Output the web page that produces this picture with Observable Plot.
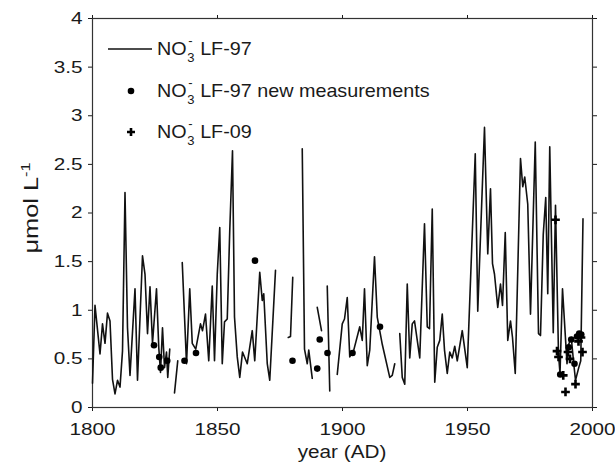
<!DOCTYPE html>
<html><head><meta charset="utf-8">
<script src="https://cdn.jsdelivr.net/npm/d3@7"></script>
<script src="https://cdn.jsdelivr.net/npm/@observablehq/plot@0.6"></script>
<style>body{margin:0;background:#fff}#chart svg{display:block}</style>
</head><body><div id="chart"></div>
<script>
// NO3- LF-97 (line); null marks a gap in the record
const lf97Year = [1800,1801,1803,1804,1805,1806,1807,1808,1809,1810,1811,1812,1813,1814,1815,1817,1818,1820,1821,1822,1823,1824,1825.6,1826.5,1827.2,1828,1828.8,1829.6,1830.1,1830.9,1831.8,1832.8,1834.1,1835,1835.9,1837.6,1838.9,1839.9,1841.3,1843.2,1844,1845.2,1846.5,1847.9,1848.8,1849.9,1850.9,1851.9,1852.8,1853.9,1854.9,1856,1856.8,1857.9,1858.9,1860,1861.9,1863.9,1864.9,1866.9,1867.9,1868.5,1869.9,1870.9,1873.2,1875,1878.3,1879.2,1880.1,1882,1883.9,1884.8,1885.9,1886.5,1887.9,1889,1889.9,1891.6,1892.5,1893.9,1894.9,1896,1897.9,1899.9,1900.8,1901.9,1902.9,1904.5,1906.9,1907.9,1908.8,1909.9,1910.9,1912.8,1913.9,1915.9,1918.9,1919.9,1920.9,1922,1922.9,1923.9,1924.9,1925.9,1926.9,1927.9,1928.8,1930.9,1932.8,1933.9,1934.8,1935.9,1936.9,1937.9,1938.9,1939.9,1940.8,1941.9,1942.9,1943.9,1944.9,1945.9,1947.9,1949.9,1953.1,1954.1,1956.8,1958.1,1959.2,1960,1960.8,1962.1,1963.2,1964,1965.1,1966.1,1967.2,1968,1969.1,1971.2,1972.1,1972.9,1974.1,1975.2,1977.1,1978.4,1979.2,1980.3,1981.3,1982.1,1982.9,1984.3,1985.2,1986.4,1987,1988,1989.8,1990.5,1991.5,1992.5,1993.2,1994.5,1995.3,1996.2];
const lf97Value = [0.25,1.05,0.55,0.86,0.66,0.97,0.89,0.29,0.14,0.28,0.21,0.58,2.21,0.82,0.33,1.22,0.28,1.56,1.37,0.76,1.24,0.66,1.22,0.62,0.36,0.82,0.41,0.57,0.31,0.60,null,0.15,0.48,null,1.49,0.45,1.22,0.66,0.60,0.86,0.79,0.96,0.48,1.25,0.48,1.37,1.85,0.45,0.88,0.91,1.82,2.64,0.93,0.52,0.31,0.57,0.45,0.79,0.48,1.39,1.10,1.17,0.45,0.28,1.41,null,0.72,0.73,1.34,null,2.66,0.60,0.45,0.59,0.30,null,1.03,0.79,null,1.25,0.17,null,0.34,0.86,0.91,1.13,0.52,0.59,0.83,0.69,1.22,0.43,0.59,1.55,0.93,0.65,0.31,0.33,0.45,null,0.76,0.31,0.24,1.27,0.51,0.86,0.89,0.51,1.89,0.83,0.81,2.04,0.26,0.62,0.69,0.96,0.59,0.35,0.57,0.51,0.63,0.48,0.79,0.41,2.61,0.99,2.88,1.58,2.25,1.48,1.37,1.03,1.27,1.05,1.80,0.69,0.89,0.72,0.35,2.56,2.27,2.37,2.09,0.96,2.73,0.76,0.74,1.78,2.16,1.17,2.68,0.77,2.08,0.55,0.35,1.22,0.45,0.65,0.72,0.45,0.28,0.41,0.48,1.94];

// NO3- LF-97 new measurements (dots)
const newYear = [1824.6,1826.7,1827.3,1829.9,1836.8,1841.4,1865,1880,1889.9,1890.9,1894,1904,1915,1987.1,1990.5,1991.5,1992.8,1993.8,1994.7,1995.5];
const newValue = [0.64,0.52,0.41,0.48,0.48,0.56,1.51,0.48,0.40,0.70,0.56,0.56,0.83,0.34,0.62,0.70,0.45,0.73,0.76,0.75];

// NO3- LF-09 (crosses)
const lf09Year = [1985.2,1985.8,1986.4,1988.3,1989.2,1990.2,1991.0,1993.2,1994.4,1995.4,1996.0];
const lf09Value = [1.93,0.58,0.52,0.33,0.16,0.57,0.50,0.24,0.68,0.72,0.57];

const xTicks = [1800,1850,1900,1950,2000];
const yTicks = [0,0.5,1,1.5,2,2.5,3,3.5,4];
const xLabel = "year (AD)";
const yLabel = "\u03bcmol L";
const yLabelSup = "-1";
const legendLabels = ["LF-97", "LF-97 new measurements", "LF-09"];

const lf97 = lf97Year.map((year, i) => ({year, value: lf97Value[i]}));
const newMeas = newYear.map((year, i) => ({year, value: newValue[i]}));
const lf09 = lf09Year.map((year, i) => ({year, value: lf09Value[i]}));

const FONT = "'Liberation Sans', Arial, Helvetica, sans-serif";

const chart = Plot.plot({
  width: 615, height: 466,
  marginLeft: 92, marginRight: 23, marginTop: 18, marginBottom: 59,
  style: {fontFamily: FONT, fontSize: "17px", color: "#1a1a1a", background: "white"},
  x: {domain: [1800, 2000], label: null},
  y: {domain: [0, 4], label: null},
  marks: [
    Plot.axisX({ticks: xTicks, tickFormat: d => String(d), tickSize: 4, tickPadding: 11, label: null}),
    Plot.axisX({anchor: "top", ticks: xTicks, tickFormat: () => "", tickSize: 4, label: null}),
    Plot.axisY({ticks: yTicks, tickFormat: d => String(d), tickSize: 4, tickPadding: 6, label: null}),
    Plot.axisY({anchor: "right", ticks: yTicks, tickFormat: () => "", tickSize: 4, label: null}),
    Plot.frame({stroke: "#333", strokeWidth: 1.2}),
    Plot.line(lf97, {x: "year", y: "value", stroke: "#111", strokeWidth: 1.6}),
    Plot.dot(newMeas, {x: "year", y: "value", r: 3.3, fill: "#000", stroke: "none"}),
    Plot.dot(lf09, {x: "year", y: "value", symbol: "plus", r: 2.9, stroke: "#000", strokeWidth: 2.6})
  ]
});
document.getElementById("chart").append(chart);

// stretch tick labels horizontally like the reference
chart.querySelectorAll('g[aria-label="x-axis tick label"] text, g[aria-label="y-axis tick label"] text').forEach(t => {
  const tr = t.getAttribute("transform") || "";
  t.setAttribute("transform", tr + " scale(1.22,1)");
});

const svg = d3.select(chart);

// x label
svg.append("text").attr("transform", "translate(342,458) scale(1.12,1)")
  .attr("text-anchor", "middle").attr("font-family", FONT).attr("font-size", 18.5).attr("fill", "#1a1a1a")
  .text(xLabel);

// y label
const yl = svg.append("text").attr("transform", "translate(38,208) rotate(-90) scale(1.3,1)")
  .attr("text-anchor", "middle").attr("font-family", FONT).attr("font-size", 19.5).attr("fill", "#1a1a1a");
yl.append("tspan").text(yLabel);
yl.append("tspan").attr("dy", -8).attr("font-size", 12.5).text(yLabelSup);

// legend
function no3(g, baseline, rest) {
  const grp = g.append("g").attr("transform", `translate(157,${baseline}) scale(1.04,1)`)
    .attr("font-family", FONT).attr("fill", "#1a1a1a").attr("text-anchor", "start");
  const t = grp.append("text").attr("font-size", 19).text("NO");
  const w = t.node().getComputedTextLength();
  grp.append("text").attr("x", w + 0.5).attr("y", 7).attr("font-size", 12.5).text("3");
  grp.append("text").attr("x", w + 1.5).attr("y", -10).attr("font-size", 12.5).text("-");
  grp.append("text").attr("x", w + 13).attr("font-size", 19).text(rest);
}
const lg = svg.append("g").attr("text-anchor", "start");
lg.append("line").attr("x1", 108).attr("x2", 152).attr("y1", 49).attr("y2", 49).attr("stroke", "#111").attr("stroke-width", 1.5);
no3(lg, 55, legendLabels[0]);
lg.append("circle").attr("cx", 131).attr("cy", 91).attr("r", 3.3).attr("fill", "#000");
no3(lg, 97, legendLabels[1]);
lg.append("path").attr("d", "M127,132H135M131,128V136").attr("stroke", "#000").attr("stroke-width", 2.6);
no3(lg, 138, legendLabels[2]);
</script>
</body></html>
